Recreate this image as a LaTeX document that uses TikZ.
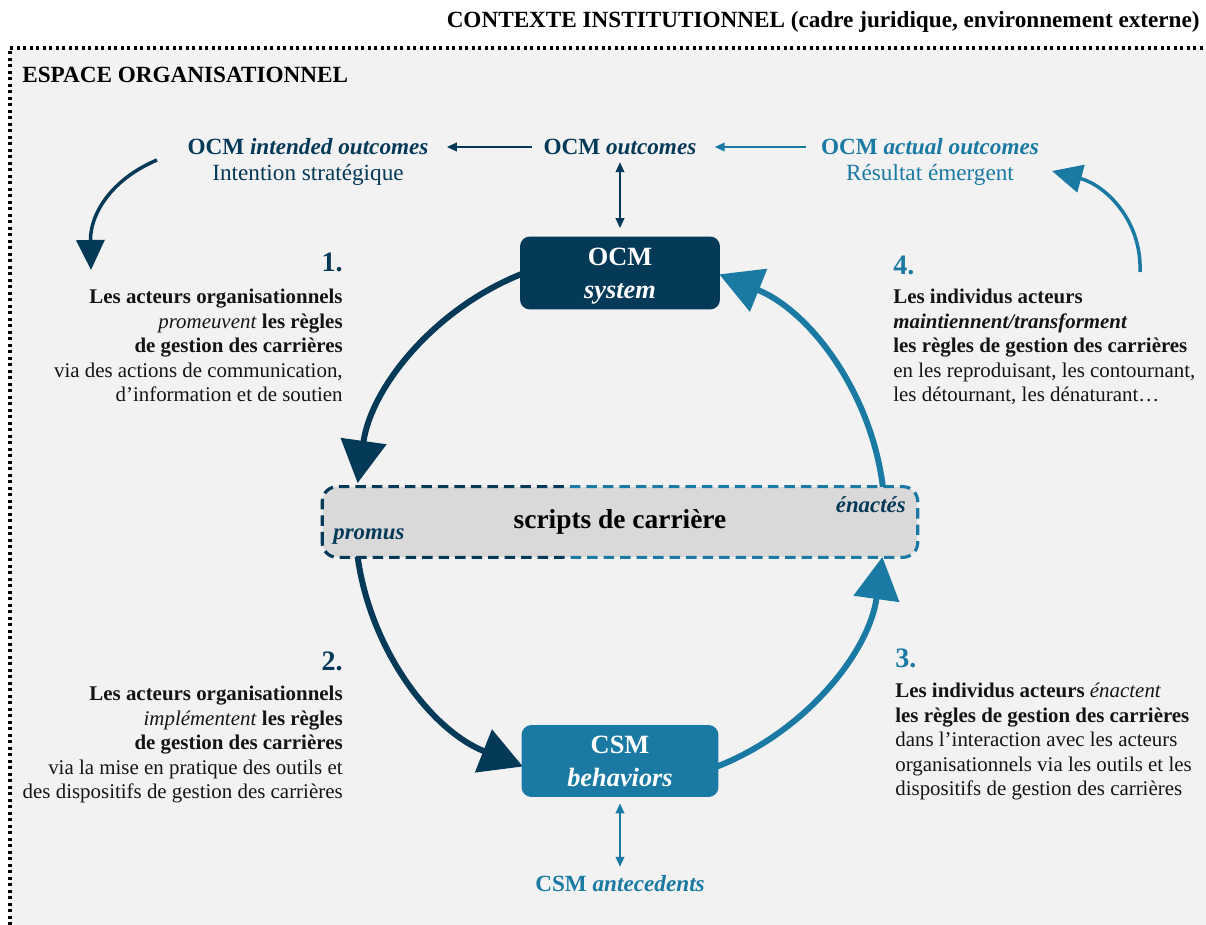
\documentclass[tikz,border=0pt]{standalone}
\usepackage{fontspec}
\setmainfont{Liberation Serif}
\usetikzlibrary{arrows.meta,positioning}

\definecolor{ocmnavy}{RGB}{4,57,88}
\definecolor{csmblue}{RGB}{27,122,163}
\definecolor{spacegray}{RGB}{242,242,242}
\definecolor{scriptgray}{RGB}{217,217,217}
\definecolor{bodyink}{RGB}{20,20,20}

\tikzset{
  stagebox/.style={rounded corners=0.2cm, minimum width=4.0cm, minimum height=1.46cm,
    align=center, text=white, font=\bfseries\fontsize{15}{19}\selectfont, inner sep=0pt, text depth=0pt},
  outlabel/.style={font=\bfseries\fontsize{13.2}{15}\selectfont, inner sep=0pt},
  sublabel/.style={font=\fontsize{13.2}{15}\selectfont, inner sep=0pt},
  stepnum/.style={font=\bfseries\fontsize{16}{19}\selectfont, inner sep=0pt},
  stepbody/.style={font=\fontsize{11.9}{13.9}\selectfont, text=bodyink, inner sep=0pt},
  cyclearrow/.style={line width=3.4pt, -{Triangle[length=0.85cm,width=0.9cm]}},
  bendarrow/.style={line width=2pt, -{Triangle[length=0.6cm,width=0.56cm]}},
  linkarrow/.style={line width=1.2pt, -{Triangle[length=0.2cm,width=0.17cm]}},
  duoarrow/.style={line width=1.2pt, {Triangle[length=0.2cm,width=0.17cm]}-{Triangle[length=0.2cm,width=0.17cm]}},
  scriptedge/.style={line width=1.8pt, dash pattern=on 0.21cm off 0.12cm, rounded corners=0.3cm}
}

\begin{document}
\begin{tikzpicture}[x=0.02cm,y=0.02cm]
\useasboundingbox (0,0) rectangle (1206,-925);

% organisational space
\fill[spacegray] (10,-48) rectangle (1206,-925);
\draw[line width=1.8pt, dash pattern=on 0.06cm off 0.07cm] (10,-925) -- (10,-48) -- (1206,-48);
\node[outlabel, anchor=east] (context) at (1200,-22) {CONTEXTE INSTITUTIONNEL (cadre juridique, environnement externe)};
\node[outlabel, anchor=west] (space) at (22,-75) {ESPACE ORGANISATIONNEL};

% cycle
\coordinate (hub) at (620,-520);
\draw[cyclearrow, ocmnavy] ([shift={(110:5.3cm)}]hub) arc[start angle=110, end angle=172, radius=5.3cm];
\draw[cyclearrow, ocmnavy] ([shift={(185:5.3cm)}]hub) arc[start angle=185, end angle=248.5, radius=5.3cm];
\draw[cyclearrow, csmblue] ([shift={(290:5.3cm)}]hub) arc[start angle=290, end angle=352, radius=5.3cm];
\draw[cyclearrow, csmblue] ([shift={(5:5.3cm)}]hub) arc[start angle=5, end angle=68, radius=5.3cm];

\node[stagebox, fill=ocmnavy] (ocm) at (620,-273) {OCM\\\textit{system}};
\node[stagebox, fill=csmblue, minimum width=3.94cm, minimum height=1.44cm] (csm) at (620,-761) {CSM\\\textit{behaviors}};

\node[fill=scriptgray, rounded corners=0.3cm, minimum width=11.9cm, minimum height=1.4cm,
  font=\bfseries\fontsize{15.6}{18}\selectfont] (scripts) at (620,-522) {scripts de carrière};
\begin{scope}
  \clip (300,-470) rectangle (565,-580);
  \draw[scriptedge, ocmnavy] (scripts.south west) rectangle (scripts.north east);
\end{scope}
\begin{scope}
  \clip (565,-470) rectangle (940,-580);
  \draw[scriptedge, csmblue] (scripts.south west) rectangle (scripts.north east);
\end{scope}
\node[outlabel, font=\bfseries\itshape\fontsize{13}{15}\selectfont, text=ocmnavy, anchor=west] (promus) at (333,-537) {promus};
\node[outlabel, font=\bfseries\itshape\fontsize{13}{15}\selectfont, text=ocmnavy, anchor=east] (enactes) at (906,-505) {énactés};

% outcomes
\node[outlabel, text=ocmnavy] (outc) at (620,-147) {OCM \textit{outcomes}};
\node[outlabel, text=ocmnavy] (intended) at (308,-147) {OCM \textit{intended outcomes}};
\node[sublabel, text=ocmnavy] (intention) at (308,-175) {Intention stratégique};
\node[outlabel, text=csmblue] (actual) at (930,-147) {OCM \textit{actual outcomes}};
\node[sublabel, text=csmblue] (emergent) at (930,-175) {Résultat émergent};
\node[outlabel, text=csmblue, below=1.55cm of csm] (antec) {CSM \textit{antecedents}};

\draw[linkarrow, ocmnavy, shorten <=0.22cm, shorten >=0.36cm] (outc) -- (intended);
\draw[linkarrow, csmblue, shorten <=0.3cm, shorten >=0.36cm] (actual) -- (outc);
\draw[duoarrow, ocmnavy, shorten <=0.14cm, shorten >=0.16cm] (outc) -- (ocm);
\draw[duoarrow, csmblue, shorten <=0.12cm, shorten >=0.16cm] (csm) -- (antec);

\coordinate (leftfrom) at (157,-160);
\coordinate (leftto) at (91,-270);
\coordinate (rightfrom) at (1140,-272);
\coordinate (rightto) at (1052,-171);
\draw[bendarrow, ocmnavy] (leftfrom) .. controls (110,-180) and (90,-215) .. (leftto);
\draw[bendarrow, csmblue] (rightfrom) .. controls (1142,-220) and (1105,-185) .. (rightto);

% steps
\node[stepnum, text=ocmnavy, anchor=base east] (n1) at (343,-272) {1.};
\node[stepbody, align=right, anchor=north east] (t1) at (343,-289)
  {\textbf{Les acteurs organisationnels}\\\textit{promeuvent} \textbf{les règles}\\\textbf{de gestion des carrières}\\via des actions de communication,\\d’information et de soutien};

\node[stepnum, text=ocmnavy, anchor=base east] (n2) at (343,-670) {2.};
\node[stepbody, align=right, anchor=north east] (t2) at (343,-686)
  {\textbf{Les acteurs organisationnels}\\\textit{implémentent} \textbf{les règles}\\\textbf{de gestion des carrières}\\via la mise en pratique des outils et\\des dispositifs de gestion des carrières};

\node[stepnum, text=csmblue, anchor=base west] (n3) at (895,-667) {3.};
\node[stepbody, align=left, anchor=north west] (t3) at (895,-683)
  {\textbf{Les individus acteurs} \textit{énactent}\\\textbf{les règles de gestion des carrières}\\dans l’interaction avec les acteurs\\organisationnels via les outils et les\\dispositifs de gestion des carrières};

\node[stepnum, text=csmblue, anchor=base west] (n4) at (893,-275) {4.};
\node[stepbody, align=left, anchor=north west] (t4) at (893,-289)
  {\textbf{Les individus acteurs}\\\textbf{\textit{maintiennent/transforment}}\\\textbf{les règles de gestion des carrières}\\en les reproduisant, les contournant,\\les détournant, les dénaturant…};
\end{tikzpicture}
\end{document}
